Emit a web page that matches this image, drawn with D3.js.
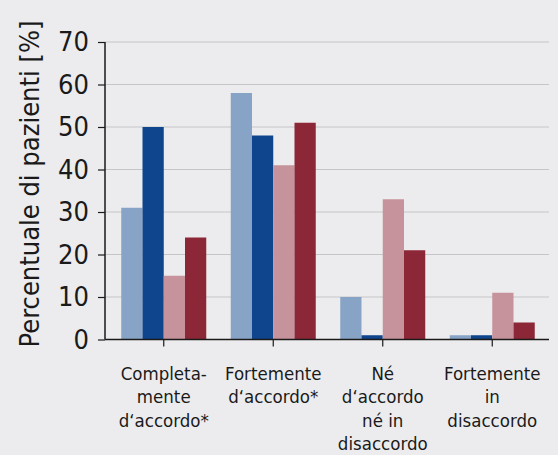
<!DOCTYPE html>
<html>
<head>
<meta charset="utf-8">
<script src="https://cdn.jsdelivr.net/npm/d3@7"></script>
<style>
  body { margin: 0; background: #ececee; }
  svg text { font-family: "DejaVu Sans Condensed", "Open Sans", sans-serif; fill: #1a1a1a; }
</style>
</head>
<body>
<div id="chart"></div>
<script>
const categories = [
  ["Completa-", "mente", "d\u2018accordo*"],
  ["Fortemente", "d\u2018accordo*"],
  ["Né", "d\u2018accordo", "né in", "disaccordo"],
  ["Fortemente", "in", "disaccordo"]
];
const seriesA = [31, 58, 10, 1];
const seriesB = [50, 48, 1, 1];
const seriesC = [15, 41, 33, 11];
const seriesD = [24, 51, 21, 4];
const yTicks = [0, 10, 20, 30, 40, 50, 60, 70];
const colors = ["#87a3c6", "#0e458c", "#c6929b", "#8b2737"];

const width = 558, height = 455;
const svg = d3.select('#chart').append('svg')
    .attr('width', width)
    .attr('height', height);

svg.append('rect').attr('width', width).attr('height', height).attr('fill', '#ececee');

const x0 = d3.scaleBand()
    .domain(d3.range(categories.length))
    .range([109, 547]);
const x1 = d3.scaleBand()
    .domain(d3.range(4))
    .range([x0.bandwidth() / 2 - 42.5, x0.bandwidth() / 2 + 42.5]);
const y = d3.scaleLinear()
    .domain([0, 70])
    .range([339.5, 42]);

// grid
svg.append('g').selectAll('line')
    .data(yTicks.slice(1))
    .enter().append('line')
    .attr('x1', 105).attr('x2', 549)
    .attr('y1', d => y(d)).attr('y2', d => y(d))
    .attr('stroke', '#c6c6c8')
    .attr('stroke-width', 1.2);

const series = [seriesA, seriesB, seriesC, seriesD];
const groups = svg.append('g').selectAll('g')
    .data(categories.map((c, i) => series.map(s => s[i])))
    .enter().append('g')
    .attr('transform', (d, i) => `translate(${x0(i)},0)`);

groups.selectAll('rect')
    .data(d => d)
    .enter().append('rect')
    .attr('x', (d, j) => x1(j))
    .attr('y', d => y(d))
    .attr('width', x1.bandwidth())
    .attr('height', d => y(0) - y(d))
    .attr('fill', (d, j) => colors[j]);

// y axis
const yAxis = svg.append('g')
    .attr('transform', 'translate(105,0)')
    .call(d3.axisLeft(y).tickValues(yTicks).tickSize(7).tickPadding(9));
yAxis.select('.domain').attr('d', `M0,${y(70)}V${y(0)}`).attr('stroke', '#1a1a1a').attr('stroke-width', 1.5);
yAxis.selectAll('.tick line').attr('stroke', '#1a1a1a').attr('stroke-width', 1.2);
yAxis.selectAll('.tick text').attr('font-size', 27).attr('fill', '#1a1a1a')
    .attr('font-family', '"DejaVu Sans Condensed", sans-serif');

// x axis
const xAxis = svg.append('g')
    .attr('transform', `translate(0,${y(0)})`)
    .call(d3.axisBottom(x0).tickSize(7).tickFormat(''));
xAxis.select('.domain').attr('d', `M105,0H549`).attr('stroke', '#1a1a1a').attr('stroke-width', 1.5);
xAxis.selectAll('.tick line').attr('stroke', '#1a1a1a').attr('stroke-width', 1.2);

// category labels, one text per line
const labels = svg.append('g').selectAll('g')
    .data(categories)
    .enter().append('g');
labels.selectAll('text')
    .data((d, i) => d.map(t => ({ t: t, i: i })))
    .enter().append('text')
    .attr('x', d => x0(d.i) + x0.bandwidth() / 2)
    .attr('y', (d, k) => 380 + k * 23.3)
    .attr('text-anchor', 'middle')
    .attr('font-size', 18.5)
    .text(d => d.t);

// y label
svg.append('text')
    .attr('transform', 'rotate(-90)')
    .attr('x', -184)
    .attr('y', 39)
    .attr('text-anchor', 'middle')
    .attr('font-size', 27)
    .text('Percentuale di pazienti [%]');
</script>
</body>
</html>
